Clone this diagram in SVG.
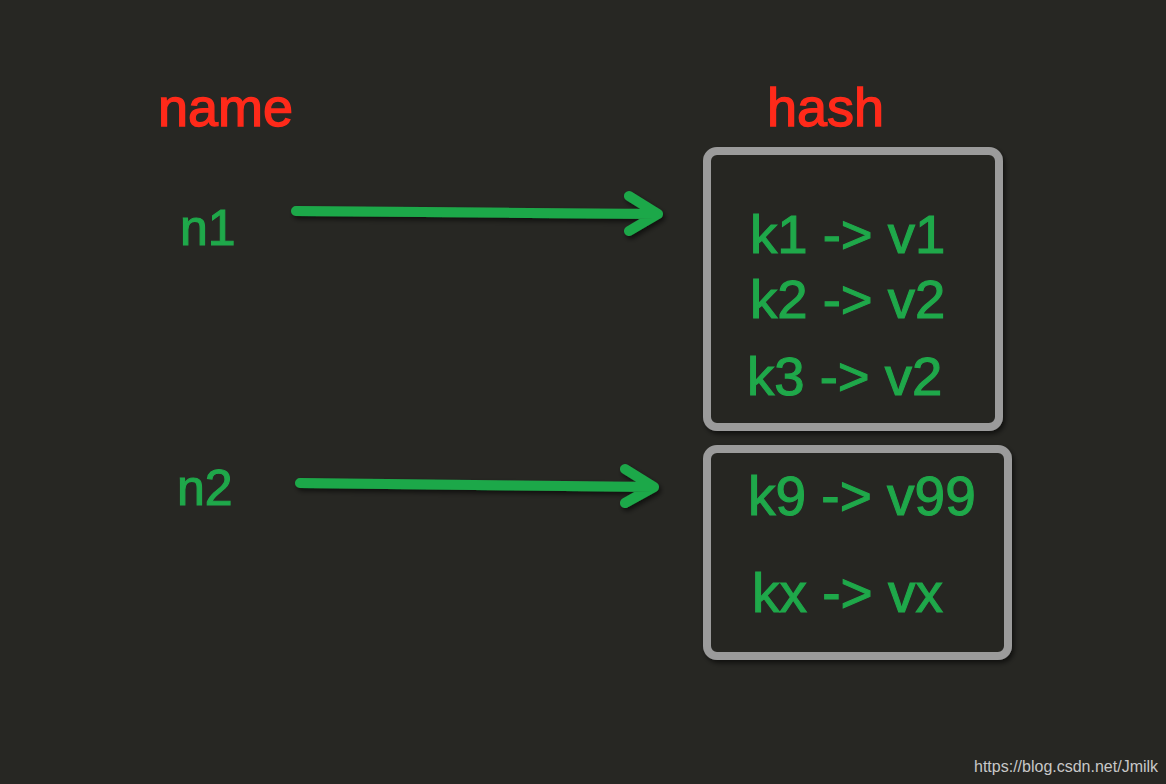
<svg xmlns="http://www.w3.org/2000/svg" width="1166" height="784" viewBox="0 0 1166 784">
<defs>
<style>
.title{font-family:"Liberation Sans",Arial,sans-serif;font-size:54px;fill:#ff2a1a;stroke:#ff2a1a;stroke-width:1.4}
.g{font-family:"Liberation Sans",Arial,sans-serif;fill:#1fa84a;stroke:#1fa84a;stroke-width:1.1}
.box{fill:#272723;stroke:#9b9b9b;stroke-width:8}
.arr{fill:none;stroke:#1fa84a;stroke-width:10;stroke-linecap:round;stroke-linejoin:round}
</style>
<filter id="sh" x="-10%" y="-30%" width="120%" height="160%">
<feDropShadow dx="2" dy="3" stdDeviation="2.5" flood-color="#000" flood-opacity="0.6"/>
</filter>
</defs>
<rect width="1166" height="784" fill="#272723"/>
<g id="label-name"><text class="title" x="158" y="126">name</text></g>
<g id="label-hash"><text class="title" x="767" y="126">hash</text></g>
<g id="n1"><text class="g" x="180" y="245" font-size="50">n1</text></g>
<g id="n2"><text class="g" x="177" y="505" font-size="50">n2</text></g>
<g id="hash1">
<rect class="box" x="707" y="151" width="292" height="276" rx="10" filter="url(#sh)"/>
<text class="g" x="750" y="253" font-size="54.5">k1 -&gt; v1</text>
<text class="g" x="750" y="318" font-size="54.5">k2 -&gt; v2</text>
<text class="g" x="747" y="395" font-size="54.5">k3 -&gt; v2</text>
</g>
<g id="hash2">
<rect class="box" x="707" y="449" width="301" height="207" rx="10" filter="url(#sh)"/>
<text class="g" x="748" y="515" font-size="55">k9 -&gt; v99</text>
<text class="g" x="752" y="612" font-size="55">kx -&gt; vx</text>
</g>
<g id="connectors" filter="url(#sh)">
<path class="arr" d="M296 211 L657 214 M629 196 L658 214 L629 231"/>
<path class="arr" d="M300 483 L653 487 M625 469 L654 487 L625 503"/>
</g>
<text x="974" y="772" font-family="Liberation Sans,Arial,sans-serif" font-size="16" fill="#c8c8c8">https://blog.csdn.net/Jmilk</text>
</svg>
